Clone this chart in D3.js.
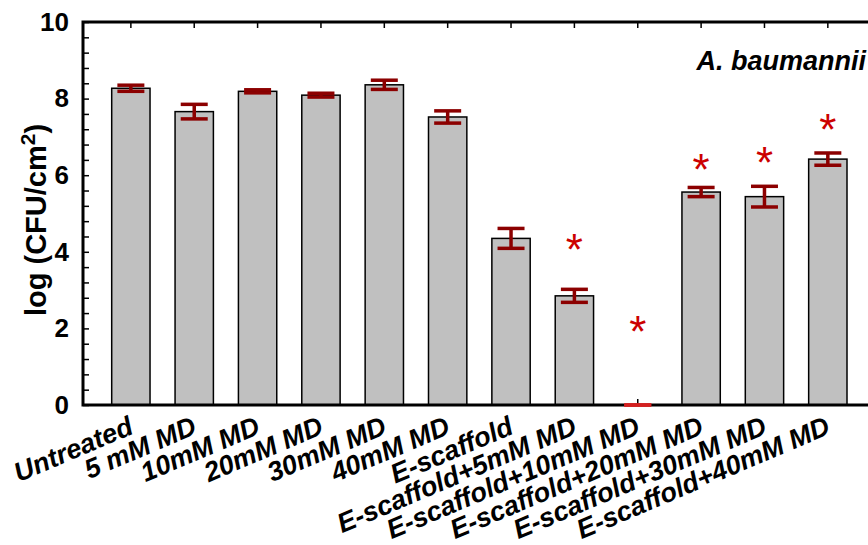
<!DOCTYPE html>
<html>
<head>
<meta charset="utf-8">
<script src="https://cdn.jsdelivr.net/npm/d3@7"></script>
<style>
  body { margin: 0; background: #fff; }
  svg { display: block; font-family: "Liberation Sans", Arial, sans-serif; }
</style>
</head>
<body>
<div id="chart"></div>
<script>
// data
const categories = ["Untreated", "5 mM MD", "10mM MD", "20mM MD", "30mM MD", "40mM MD",
  "E-scaffold", "E-scaffold+5mM MD", "E-scaffold+10mM MD", "E-scaffold+20mM MD",
  "E-scaffold+30mM MD", "E-scaffold+40mM MD"];
const means = [8.27, 7.66, 8.19, 8.09, 8.36, 7.52, 4.35, 2.85, 0, 5.56, 5.44, 6.42];
const errors = [0.08, 0.19, 0.04, 0.05, 0.12, 0.16, 0.26, 0.17, 0, 0.12, 0.27, 0.16];
// height of the significance star (null = no star)
const starLevels = [null, null, null, null, null, null, null, 4.31, 2.17, 6.40, 6.58, 7.44];
const yTicks = [0, 2, 4, 6, 8, 10];
const yMinorTicks = d3.range(0, 10.01, 0.4);
const title = "A. baumannii";

const width = 868, height = 545;
const plotL = 83, plotT = 22, plotB = 405, plotR = 875.7;

const svg = d3.select("#chart").append("svg")
  .attr("width", width)
  .attr("height", height);

svg.append("rect").attr("width", width).attr("height", height).attr("fill", "#fff");

const x = d3.scaleBand()
  .domain(categories)
  .range([plotL, plotR])
  .paddingInner(0.395)
  .paddingOuter(0.453);

const y = d3.scaleLinear()
  .domain([0, 10])
  .range([plotB, plotT]);

const data = categories.map((c, i) => ({cat: c, mean: means[i], err: errors[i], star: starLevels[i]}));

// inward ticks on all four sides (drawn first so bars cover them)
svg.append("g")
  .attr("transform", `translate(${plotL},0)`)
  .call(d3.axisRight(y).tickValues(yMinorTicks).tickSize(6).tickFormat(""))
  .call(g => g.select(".domain").remove())
  .selectAll("line").attr("stroke", "#000").attr("stroke-width", 1.5);

svg.append("g")
  .attr("transform", `translate(0,${plotT})`)
  .call(d3.axisBottom(x).tickSize(6).tickFormat(""))
  .call(g => g.select(".domain").remove())
  .selectAll("line").attr("stroke", "#000").attr("stroke-width", 1.5);

svg.append("g")
  .attr("transform", `translate(0,${plotB})`)
  .call(d3.axisTop(x).tickSize(6).tickFormat(""))
  .call(g => g.select(".domain").remove())
  .selectAll("line").attr("stroke", "#000").attr("stroke-width", 1.5);

// bars
svg.selectAll(".bar")
  .data(data.filter(d => d.mean > 0))
  .join("rect")
  .attr("class", "bar")
  .attr("x", d => x(d.cat))
  .attr("y", d => y(d.mean))
  .attr("width", x.bandwidth())
  .attr("height", d => y(0) - y(d.mean))
  .attr("fill", "#c0c0c0")
  .attr("stroke", "#000")
  .attr("stroke-width", 1.5);

// frame
svg.append("rect")
  .attr("x", plotL)
  .attr("y", plotT)
  .attr("width", plotR - plotL)
  .attr("height", plotB - plotT)
  .attr("fill", "none")
  .attr("stroke", "#000")
  .attr("stroke-width", 3);

// error bars
const errColor = "#8c0000";
const capW = 27;
const eb = svg.selectAll(".err")
  .data(data)
  .join("g")
  .attr("class", "err")
  .attr("transform", d => `translate(${x(d.cat) + x.bandwidth() / 2},0)`);

eb.append("line")
  .attr("y1", d => y(d.mean - d.err))
  .attr("y2", d => y(d.mean + d.err))
  .attr("stroke", errColor)
  .attr("stroke-width", 3.5);

eb.selectAll(".cap")
  .data(d => [d.mean - d.err, d.mean + d.err])
  .join("line")
  .attr("class", "cap")
  .attr("x1", -capW / 2)
  .attr("x2", capW / 2)
  .attr("y1", v => y(v))
  .attr("y2", v => y(v))
  .attr("stroke", (v, i, n) => d3.select(n[i].parentNode).datum().mean > 0 ? errColor : "#d42020")
  .attr("stroke-width", 3.5);

// significance stars
svg.selectAll(".star")
  .data(data.filter(d => d.star != null))
  .join("text")
  .attr("class", "star")
  .attr("x", d => x(d.cat) + x.bandwidth() / 2)
  .attr("y", d => y(d.star) + 25)
  .attr("text-anchor", "middle")
  .attr("fill", "#cc0000")
  .style("font-size", "44px")
  .text("*");

// y tick labels
svg.append("g")
  .attr("transform", `translate(${plotL},0)`)
  .call(d3.axisLeft(y).tickValues(yTicks).tickSize(0).tickPadding(14))
  .call(g => g.select(".domain").remove())
  .selectAll("text")
  .attr("fill", "#000")
  .style("font-family", "'Liberation Sans', Arial, sans-serif")
  .style("font-size", "26px")
  .style("font-weight", "bold");

// x category labels
svg.selectAll(".xlabel")
  .data(categories)
  .join("text")
  .attr("class", "xlabel")
  .attr("transform", d => `translate(${x(d) + x.bandwidth() / 2 + 4},${plotB + 28}) rotate(-23)`)
  .attr("text-anchor", "end")
  .style("font-size", "27px")
  .style("font-weight", "bold")
  .style("font-style", "italic")
  .text(d => d);

// y axis title
const yt = svg.append("text")
  .attr("transform", `translate(46,220) rotate(-90)`)
  .attr("text-anchor", "middle")
  .style("font-size", "29px")
  .style("font-weight", "bold");
yt.append("tspan").text("log (CFU/cm");
yt.append("tspan").attr("dy", -11).style("font-size", "21px").text("2");
yt.append("tspan").attr("dy", 11).text(")");

// organism label
svg.append("text")
  .attr("x", 866)
  .attr("y", 70)
  .attr("text-anchor", "end")
  .style("font-size", "27px")
  .style("font-weight", "bold")
  .style("font-style", "italic")
  .text(title);
</script>
</body>
</html>
